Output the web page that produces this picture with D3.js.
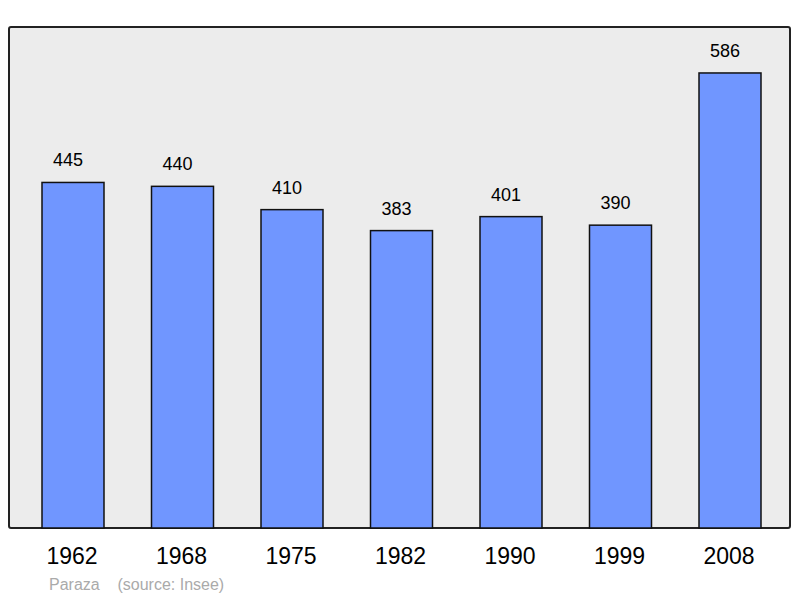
<!DOCTYPE html><html><head><script src="https://cdn.jsdelivr.net/npm/d3@7"></script>
<style>body{margin:0;background:#fff}</style></head><body><svg id="c" width="800" height="598"></svg>
<script>
const years=["1962","1968","1975","1982","1990","1999","2008"];
const values=[445,440,410,383,401,390,586];
const svg=d3.select("#c");
const L=9,R=790,T=27,B=528;
svg.append("rect").attr("x",L).attr("y",T).attr("width",R-L).attr("height",B-T).attr("rx",2)
 .attr("fill","#ececec").attr("stroke","#222").attr("stroke-width",2);
const x2=d3.scaleLinear().domain([0,6]).range([73,730]);
const y=d3.scaleLinear().domain([0,645.2]).range([B,T]);
const bw=62;
const g=svg.append("g");
years.forEach((yr,i)=>{
 const cx=x2(i);
 g.append("rect").attr("x",cx-bw/2).attr("y",y(values[i])).attr("width",bw).attr("height",B-y(values[i]))
  .attr("fill","#7096ff").attr("stroke","#111").attr("stroke-width",1.5);
 g.append("text").attr("x",cx-5).attr("y",y(values[i])-16).attr("text-anchor","middle")
  .attr("font-family","Liberation Sans, Arial").attr("font-size",18).text(values[i]);
 g.append("text").attr("x",cx-1).attr("y",564).attr("text-anchor","middle")
  .attr("font-family","Liberation Sans, Arial").attr("font-size",23).text(yr);
});
svg.append("text").attr("x",49).attr("y",590).attr("font-family","Liberation Sans, Arial").attr("font-size",16)
 .attr("fill","#aaa").attr("xml:space","preserve").text("Paraza    (source: Insee)");
</script></body></html>
